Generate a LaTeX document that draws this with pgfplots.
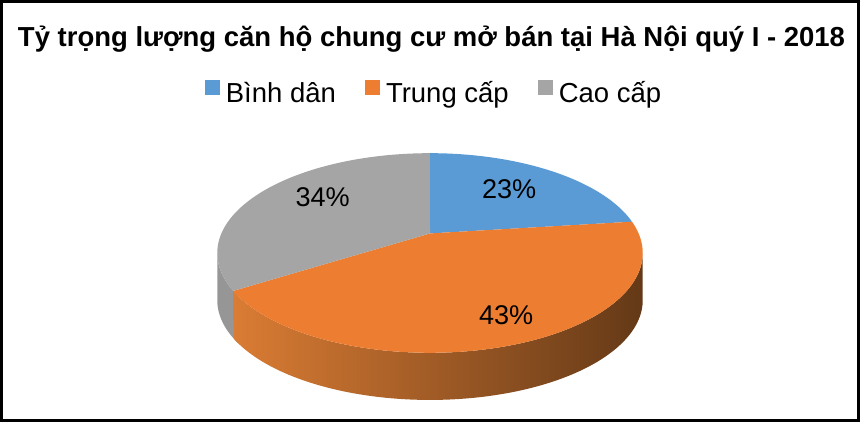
\documentclass[border=0pt]{standalone}
\usepackage{pgfplots}
\pgfplotsset{compat=1.18}
\usepackage{pgfplotstable}
\usepackage{fontspec}
\setmainfont{Liberation Sans}

\definecolor{binhdan}{RGB}{91,155,213}
\definecolor{trungcap}{RGB}{237,125,49}
\definecolor{caocap}{RGB}{165,165,165}
\definecolor{wallL}{RGB}{218,124,52}
\definecolor{wallM}{RGB}{165,92,40}
\definecolor{wallR}{RGB}{100,57,23}
\definecolor{wallG}{RGB}{150,150,150}

% share of each segment, percent
\pgfplotstableread{
label value
binhdan 23
trungcap 43
caocap 34
}\piedata

\begin{document}%
\begin{tikzpicture}
\pgfplotstablegetelem{0}{value}\of\piedata\edef\va{\pgfplotsretval}
\pgfplotstablegetelem{1}{value}\of\piedata\edef\vb{\pgfplotsretval}
\pgfplotstablegetelem{2}{value}\of\piedata\edef\vc{\pgfplotsretval}
% pie geometry (pixel units), perspective factor k
\def\cx{430}\def\cy{188}\def\rx{208}\def\ry{95.7}\def\kk{0.196}\def\hh{47}
\pgfmathsetmacro\aA{3.6*\va}
\pgfmathsetmacro\aB{\aA+3.6*\vb}
\pgfmathsetmacro\tR{90+asin(\kk)}
\pgfmathsetmacro\tL{270-asin(\kk)}
\pgfmathsetmacro\wS{max(\aA,\tR)}
\pgfmathsetmacro\wSend{2*\aB-\wS}
\pgfmathsetmacro\gS{\aB-3}
\pgfmathsetmacro\gEnd{2*\tL-\gS}
\begin{axis}[
  width=860pt, height=421pt, scale only axis,
  xmin=0, xmax=860, ymin=0, ymax=421,
  hide axis, clip=false,
  declare function={
    px(\t)=\cx+\rx*sin(\t)/(1+\kk*cos(\t));
    py(\t)=\cy+\ry*cos(\t)/(1+\kk*cos(\t));
  },
  legend columns=3,
  legend style={at={(0.5035,0.782)}, anchor=center, draw=none, fill=none,
    font=\fontsize{27.4}{30}\selectfont, inner sep=0pt,
    nodes={inner sep=0pt},
    /tikz/every odd column/.append style={column sep=6pt},
    /tikz/every even column/.append style={column sep=29pt}},
  legend image code/.code={\fill[#1,draw=none] (0pt,-2pt) rectangle (15pt,13pt);},
]
% side walls
\addplot[forget plot, draw=none, fill=wallG, domain=\gS:\gEnd, samples=81]
  ({px(ifthenelse(x<=\tL,x,2*\tL-x))},
   {py(ifthenelse(x<=\tL,x,2*\tL-x))-ifthenelse(x<=\tL,0,\hh)}) -- cycle;
\addplot[forget plot, draw=none, left color=wallL, middle color=wallM, right color=wallR,
  domain=\wS:\wSend, samples=481]
  ({px(ifthenelse(x<=\aB,x,2*\aB-x))},
   {py(ifthenelse(x<=\aB,x,2*\aB-x))-ifthenelse(x<=\aB,0,\hh)}) -- cycle;
% top face
\addplot[forget plot, draw=none, fill=binhdan, domain=0:\aA, samples=60]
  ({px(x)},{py(x)}) -- (axis cs:\cx,\cy) -- cycle;
\addplot[forget plot, draw=none, fill=trungcap, domain=\aA:\aB, samples=100]
  ({px(x)},{py(x)}) -- (axis cs:\cx,\cy) -- cycle;
\addplot[forget plot, draw=none, fill=caocap, domain=\aB:360, samples=80]
  ({px(x)},{py(x)}) -- (axis cs:\cx,\cy) -- cycle;

\addlegendimage{fill=binhdan}\addlegendentry{Bình dân}
\addlegendimage{fill=trungcap}\addlegendentry{Trung cấp}
\addlegendimage{fill=caocap}\addlegendentry{Cao cấp}

\node[font=\fontsize{27}{30}\selectfont] at (axis cs:509,232.5) {\va\%};
\node[font=\fontsize{27}{30}\selectfont] at (axis cs:506,106.5) {\vb\%};
\node[font=\fontsize{27}{30}\selectfont] at (axis cs:323,224.3) {\vc\%};

\node[font=\bfseries\fontsize{27.4}{30}\selectfont, anchor=base, inner sep=0pt] at (axis cs:431.5,374.5) {Tỷ trọng lượng căn hộ chung cư mở bán tại Hà Nội quý I - 2018};

\draw[line width=2.5pt] (axis cs:2.5,1.5) rectangle (axis cs:857.5,419.5);
\end{axis}
\end{tikzpicture}%
\end{document}
